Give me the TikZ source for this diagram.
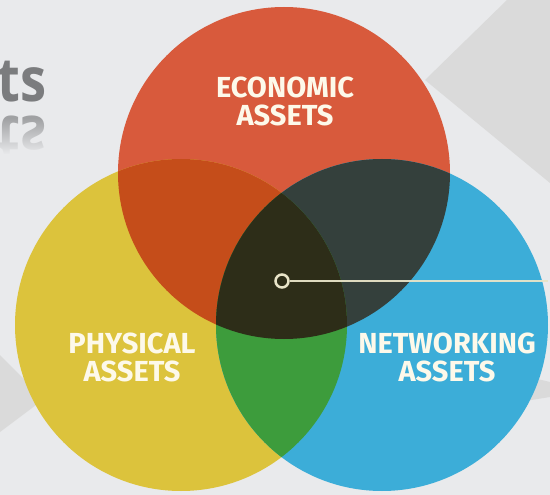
\documentclass[tikz,border=0pt]{standalone}
\usepackage{fontspec}
\usetikzlibrary{fadings}
\newfontfamily\lblfont{Fira Sans}
\newfontfamily\ttlfont{Open Sans}[BoldFeatures={FakeStretch=0.86}]
\definecolor{bg}{HTML}{E9EAEC}
\definecolor{chev}{HTML}{DADADA}
\definecolor{cred}{HTML}{D85A3C}
\definecolor{cyel}{HTML}{DCC33C}
\definecolor{cblu}{HTML}{3CADD8}
\definecolor{cry}{HTML}{C54D1A}
\definecolor{crb}{HTML}{34403C}
\definecolor{cyb}{HTML}{3D9C3C}
\definecolor{call}{HTML}{2D2D18}
\definecolor{ttl}{HTML}{7B7C7E}
\definecolor{ttlref}{HTML}{A0A1A3}
\definecolor{lbltext}{HTML}{FDF9EA}
\definecolor{markc}{HTML}{E8E4C8}
\tikzfading[name=fadedown, top color=transparent!100, bottom color=transparent!0]
\tikzset{
  lbl/.style={font=\lblfont\bfseries\fontsize{29}{28}\selectfont, text=lbltext, align=center, inner sep=0pt},
  ttlstyle/.style={font=\ttlfont\bfseries\fontsize{61}{61}\selectfont, inner sep=0pt},
}
\begin{document}
\begin{tikzpicture}[x=1pt,y=-1pt]
\useasboundingbox (0,0) rectangle (550,495);
\fill[bg] (0,0) rectangle (550,495);
% background chevrons
\fill[chev] (425,80) -- (507,0) -- (550,0) -- (550,183) -- cycle;
\fill[chev] (44,399) -- (0,355) -- (0,432) -- cycle;
\fill[chev] (500,370) -- (550,382) -- (550,397) -- (500,405) -- cycle;
% title fragment and its reflection
\node[ttlstyle, text=ttl, anchor=base east] (ttl) at (47,102) {ts};
\node[ttlstyle, text=ttlref, anchor=base east, yscale=-1, transform shape] (ttlr) at (47,117) {ts};
\fill[bg, path fading=fadedown] (0,118) rectangle (90,154);
\fill[bg] (0,154) rectangle (90,180);
% circles
\coordinate (cR) at (284,173);
\coordinate (cY) at (181,325);
\coordinate (cB) at (382,325);
\def\rad{166pt}
\fill[cred] (cR) circle[radius=\rad];
\fill[cyel] (cY) circle[radius=\rad];
\fill[cblu] (cB) circle[radius=\rad];
\begin{scope}
  \clip (cR) circle[radius=\rad];
  \fill[cry] (cY) circle[radius=\rad];
  \fill[crb] (cB) circle[radius=\rad];
\end{scope}
\begin{scope}
  \clip (cY) circle[radius=\rad];
  \fill[cyb] (cB) circle[radius=\rad];
  \clip (cB) circle[radius=\rad];
  \fill[call] (cR) circle[radius=\rad];
\end{scope}
% labels
\node[lbl] (eco) at (285,101.5) {ECONOMIC\\ASSETS};
\node[lbl] (phy) at (132,357.5) {PHYSICAL\\ASSETS};
\node[lbl] (net) at (447,357.5) {NETWORKING\\ASSETS};
% marker and pointer line
\node[circle, draw=markc, line width=2.5pt, fill=call, minimum size=13pt, inner sep=0pt] (mk) at (282,281) {};
\coordinate (lineend) at (548,281);
\draw[markc, line width=2.6pt, opacity=0.95] (mk.east) -- (lineend);
\end{tikzpicture}
\end{document}
